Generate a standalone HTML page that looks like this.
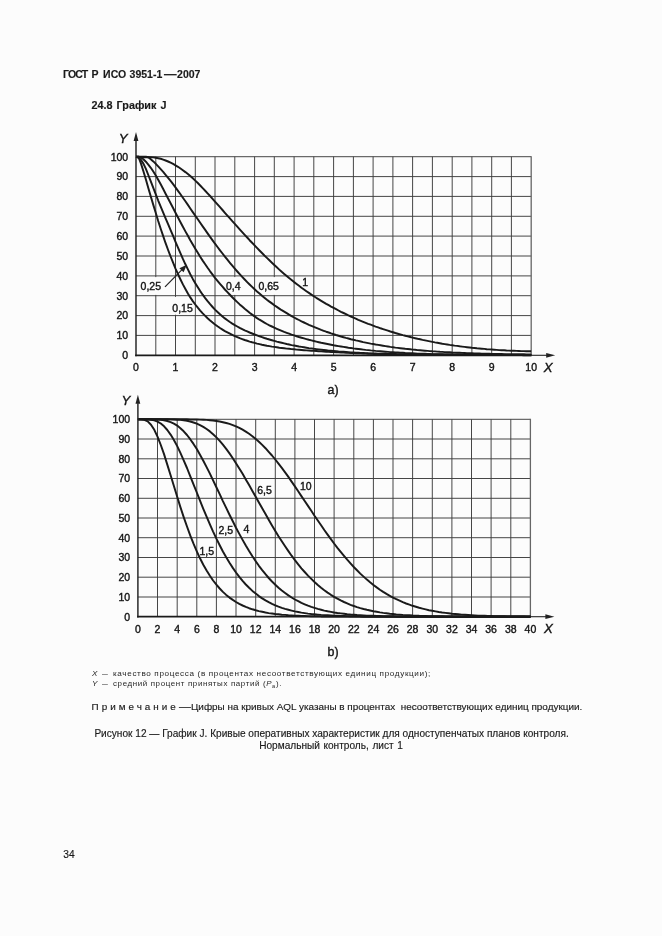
<!DOCTYPE html>
<html lang="ru"><head><meta charset="utf-8"><title>ГОСТ Р ИСО 3951-1—2007</title>
<style>
html,body{margin:0;padding:0}
body{width:662px;height:936px;background:#fcfcfc;position:relative;overflow:hidden;font-family:"Liberation Sans",Arial,sans-serif;color:#1a1a1a}
.p{position:absolute;white-space:nowrap;line-height:1;margin:0;-webkit-text-stroke:0.15px #1a1a1a}
.b{font-weight:bold;font-size:10.5px}
.n{font-size:7px;letter-spacing:0.55px;transform:scaleX(1.16);transform-origin:0 0;-webkit-text-stroke:0;color:#262626}
.n sub{font-size:5px;vertical-align:-1.5px}
svg{position:absolute;left:0;top:0}
svg text{font-family:"Liberation Sans",Arial,sans-serif;font-size:10.5px;fill:#141414;stroke:#141414;stroke-width:0.38px}
svg text.i{font-style:italic;font-size:13.2px}
.g{fill:none;stroke:#3c3c3c;stroke-width:0.95}
.gr{fill:none;stroke:#666;stroke-width:1.3}
.c{fill:none;stroke:#1a1a1a;stroke-width:1.95;stroke-linejoin:round}
.ax{fill:none;stroke:#222;stroke-width:1.45}
.ax2{fill:none;stroke:#1a1a1a;stroke-width:1.8}
.ax3{fill:none;stroke:#222;stroke-width:1.1}
.ar{fill:#222;stroke:none}
.ld{fill:none;stroke:#222;stroke-width:1.2}
.w{fill:#fcfcfc}
</style></head><body>
<div class="p b" style="left:62.9px;top:69.3px;letter-spacing:-0.8px">ГОСТ</div><div class="p b" style="left:91.6px;top:69.3px">Р</div><div class="p b" style="left:103.1px;top:69.3px">ИСО</div><div class="p b" style="left:129.6px;top:69.3px">3951-1</div><div class="p b" style="left:164.2px;top:69.3px;transform:scaleX(1.2);transform-origin:0 0">—</div><div class="p b" style="left:177.1px;top:69.3px">2007</div>
<div class="p b" style="left:91.4px;top:100.4px;font-size:10.8px;word-spacing:1.2px">24.8 График J</div>
<svg width="662" height="936" viewBox="0 0 662 936">
<path class="g" d="M155.8,156.7V355.3M175.5,156.7V355.3M195.3,156.7V355.3M215.0,156.7V355.3M234.8,156.7V355.3M254.6,156.7V355.3M274.3,156.7V355.3M294.1,156.7V355.3M313.8,156.7V355.3M333.6,156.7V355.3M353.4,156.7V355.3M373.1,156.7V355.3M392.9,156.7V355.3M412.6,156.7V355.3M432.4,156.7V355.3M452.2,156.7V355.3M471.9,156.7V355.3M491.7,156.7V355.3M511.4,156.7V355.3M136.0,156.7H531.2M136.0,176.6H531.2M136.0,196.4H531.2M136.0,216.3H531.2M136.0,236.1H531.2M136.0,256.0H531.2M136.0,275.9H531.2M136.0,295.7H531.2M136.0,315.6H531.2M136.0,335.4H531.2"/>
<path class="gr" d="M531.2,156.2V355.3"/>
<rect class="w" x="139.5" y="277.1" width="23" height="17.8"/><rect class="w" x="171" y="296.9" width="23.5" height="17.8"/><rect class="w" x="225" y="277.1" width="17.5" height="17.8"/><rect class="w" x="257.5" y="277.1" width="22.5" height="17.8"/>
<path class="c" d="M136.0,156.7L138.5,157.2L140.9,157.2L143.4,157.2L145.9,157.2L148.3,157.2L150.8,157.3L153.3,157.4L155.8,157.8L158.2,158.2L160.7,158.8L163.2,159.6L165.6,160.5L168.1,161.5L170.6,162.7L173.1,163.9L175.5,165.3L178.0,166.8L180.5,168.5L182.9,170.2L185.4,172.1L187.9,174.1L190.3,176.1L192.8,178.3L195.3,180.6L197.8,183.0L200.2,185.5L202.7,188.1L205.2,190.7L207.6,193.3L210.1,196.0L212.6,198.8L215.0,201.6L217.5,204.4L220.0,207.2L222.5,210.0L224.9,212.8L227.4,215.6L229.9,218.4L232.3,221.2L234.8,223.9L237.3,226.7L239.7,229.4L242.2,232.1L244.7,234.8L247.2,237.5L249.6,240.2L252.1,242.8L254.6,245.4L257.0,247.9L259.5,250.5L262.0,253.0L264.4,255.5L266.9,257.9L269.4,260.3L271.9,262.7L274.3,265.0L276.8,267.3L279.3,269.6L281.7,271.8L284.2,273.9L286.7,276.0L289.1,278.1L291.6,280.1L294.1,282.1L296.6,284.0L299.0,285.8L301.5,287.7L304.0,289.5L306.4,291.2L308.9,292.9L311.4,294.6L313.8,296.2L316.3,297.8L318.8,299.3L321.2,300.8L323.7,302.3L326.2,303.8L328.7,305.2L331.1,306.6L333.6,307.9L336.1,309.2L338.5,310.5L341.0,311.8L343.5,313.0L346.0,314.2L348.4,315.4L350.9,316.5L353.4,317.6L355.8,318.7L358.3,319.8L360.8,320.8L363.2,321.8L365.7,322.8L368.2,323.8L370.7,324.7L373.1,325.6L375.6,326.6L378.1,327.4L380.5,328.3L383.0,329.1L385.5,329.9L387.9,330.7L390.4,331.5L392.9,332.2L395.4,333.0L397.8,333.7L400.3,334.4L402.8,335.1L405.2,335.7L407.7,336.4L410.2,337.0L412.6,337.6L415.1,338.2L417.6,338.8L420.1,339.3L422.5,339.9L425.0,340.4L427.5,340.9L429.9,341.4L432.4,341.9L434.9,342.4L437.3,342.8L439.8,343.2L442.3,343.7L444.8,344.1L447.2,344.5L449.7,344.9L452.2,345.2L454.6,345.6L457.1,345.9L459.6,346.3L462.0,346.6L464.5,346.9L467.0,347.2L469.5,347.5L471.9,347.8L474.4,348.0L476.9,348.3L479.3,348.5L481.8,348.7L484.3,348.9L486.7,349.2L489.2,349.4L491.7,349.5L494.2,349.7L496.6,349.9L499.1,350.1L501.6,350.2L504.0,350.3L506.5,350.5L509.0,350.6L511.4,350.7L513.9,350.8L516.4,350.9L518.9,351.0L521.3,351.1L523.8,351.1L526.3,351.2L528.7,351.2L531.2,351.3"/>
<path class="c" d="M136.0,156.7L138.5,156.7L140.9,156.7L143.4,156.7L145.9,156.7L148.3,157.2L150.8,159.2L153.3,161.4L155.8,163.8L158.2,166.4L160.7,169.1L163.2,171.9L165.6,174.8L168.1,177.8L170.6,180.9L173.1,184.1L175.5,187.4L178.0,190.8L180.5,194.3L182.9,197.8L185.4,201.3L187.9,204.9L190.3,208.5L192.8,212.1L195.3,215.7L197.8,219.3L200.2,222.8L202.7,226.4L205.2,229.9L207.6,233.4L210.1,236.9L212.6,240.3L215.0,243.7L217.5,247.0L220.0,250.3L222.5,253.5L224.9,256.6L227.4,259.7L229.9,262.8L232.3,265.7L234.8,268.6L237.3,271.5L239.7,274.2L242.2,276.9L244.7,279.5L247.2,282.1L249.6,284.5L252.1,286.9L254.6,289.2L257.0,291.5L259.5,293.6L262.0,295.7L264.4,297.7L266.9,299.7L269.4,301.6L271.9,303.4L274.3,305.2L276.8,306.9L279.3,308.6L281.7,310.2L284.2,311.7L286.7,313.2L289.1,314.7L291.6,316.1L294.1,317.5L296.6,318.8L299.0,320.0L301.5,321.3L304.0,322.5L306.4,323.6L308.9,324.8L311.4,325.9L313.8,326.9L316.3,327.9L318.8,328.9L321.2,329.9L323.7,330.8L326.2,331.7L328.7,332.5L331.1,333.4L333.6,334.2L336.1,335.0L338.5,335.7L341.0,336.5L343.5,337.2L346.0,337.9L348.4,338.5L350.9,339.2L353.4,339.8L355.8,340.4L358.3,340.9L360.8,341.5L363.2,342.1L365.7,342.6L368.2,343.1L370.7,343.6L373.1,344.0L375.6,344.5L378.1,344.9L380.5,345.3L383.0,345.7L385.5,346.1L387.9,346.5L390.4,346.9L392.9,347.2L395.4,347.6L397.8,347.9L400.3,348.2L402.8,348.5L405.2,348.8L407.7,349.0L410.2,349.3L412.6,349.6L415.1,349.8L417.6,350.1L420.1,350.3L422.5,350.5L425.0,350.7L427.5,350.9L429.9,351.1L432.4,351.3L434.9,351.4L437.3,351.6L439.8,351.8L442.3,351.9L444.8,352.1L447.2,352.2L449.7,352.3L452.2,352.5L454.6,352.6L457.1,352.7L459.6,352.8L462.0,352.9L464.5,353.0L467.0,353.1L469.5,353.2L471.9,353.3L474.4,353.4L476.9,353.5L479.3,353.5L481.8,353.6L484.3,353.7L486.7,353.7L489.2,353.8L491.7,353.9L494.2,353.9L496.6,353.9L499.1,354.0L501.6,354.0L504.0,354.1L506.5,354.1L509.0,354.1L511.4,354.2L513.9,354.2L516.4,354.3L518.9,354.3L521.3,354.3L523.8,354.3L526.3,354.4L528.7,354.4L531.2,354.4"/>
<path class="c" d="M136.0,156.7L138.5,156.7L140.9,157.5L143.4,159.3L145.9,161.7L148.3,164.6L150.8,167.8L153.3,171.5L155.8,175.5L158.2,179.8L160.7,184.3L163.2,189.0L165.6,193.7L168.1,198.5L170.6,203.3L173.1,208.0L175.5,212.7L178.0,217.5L180.5,222.2L182.9,226.8L185.4,231.4L187.9,235.8L190.3,240.3L192.8,244.6L195.3,248.7L197.8,252.8L200.2,256.8L202.7,260.6L205.2,264.2L207.6,267.8L210.1,271.3L212.6,274.6L215.0,277.8L217.5,280.8L220.0,283.8L222.5,286.7L224.9,289.5L227.4,292.2L229.9,294.8L232.3,297.3L234.8,299.8L237.3,302.1L239.7,304.4L242.2,306.6L244.7,308.8L247.2,310.8L249.6,312.8L252.1,314.6L254.6,316.4L257.0,318.1L259.5,319.7L262.0,321.2L264.4,322.6L266.9,324.0L269.4,325.3L271.9,326.5L274.3,327.7L276.8,328.8L279.3,329.9L281.7,330.9L284.2,331.9L286.7,332.8L289.1,333.7L291.6,334.6L294.1,335.4L296.6,336.2L299.0,337.0L301.5,337.7L304.0,338.4L306.4,339.1L308.9,339.8L311.4,340.4L313.8,341.0L316.3,341.6L318.8,342.2L321.2,342.8L323.7,343.3L326.2,343.8L328.7,344.3L331.1,344.8L333.6,345.3L336.1,345.7L338.5,346.1L341.0,346.5L343.5,346.9L346.0,347.3L348.4,347.7L350.9,348.0L353.4,348.4L355.8,348.7L358.3,349.0L360.8,349.3L363.2,349.6L365.7,349.9L368.2,350.1L370.7,350.4L373.1,350.6L375.6,350.9L378.1,351.1L380.5,351.3L383.0,351.5L385.5,351.7L387.9,351.9L390.4,352.1L392.9,352.2L395.4,352.4L397.8,352.5L400.3,352.7L402.8,352.8L405.2,353.0L407.7,353.1L410.2,353.2L412.6,353.3L415.1,353.4L417.6,353.6L420.1,353.7L422.5,353.7L425.0,353.8L427.5,353.9L429.9,354.0L432.4,354.1L434.9,354.1L437.3,354.2L439.8,354.2L442.3,354.3L444.8,354.4L447.2,354.4L449.7,354.5L452.2,354.5L454.6,354.6L457.1,354.6L459.6,354.6L462.0,354.7L464.5,354.7L467.0,354.7L469.5,354.7L471.9,354.8L474.4,354.8L476.9,354.8L479.3,354.8L481.8,354.9L484.3,354.9L486.7,354.9L489.2,354.9L491.7,354.9L494.2,354.9L496.6,354.9L499.1,355.0L501.6,355.0L504.0,355.0L506.5,355.0L509.0,355.0L511.4,355.0L513.9,355.0L516.4,355.0L518.9,355.0L521.3,355.0L523.8,355.1L526.3,355.1L528.7,355.1L531.2,355.1"/>
<path class="c" d="M136.0,156.7L138.5,157.8L140.9,159.7L143.4,163.6L145.9,168.9L148.3,175.0L150.8,181.4L153.3,187.9L155.8,194.3L158.2,200.5L160.7,206.5L163.2,212.5L165.6,218.3L168.1,224.2L170.6,230.1L173.1,235.9L175.5,241.8L178.0,247.6L180.5,253.3L182.9,258.9L185.4,264.3L187.9,269.4L190.3,274.3L192.8,278.9L195.3,283.2L197.8,287.3L200.2,291.1L202.7,294.7L205.2,298.1L207.6,301.2L210.1,304.2L212.6,307.0L215.0,309.6L217.5,312.0L220.0,314.3L222.5,316.4L224.9,318.4L227.4,320.2L229.9,322.0L232.3,323.6L234.8,325.1L237.3,326.5L239.7,327.9L242.2,329.1L244.7,330.3L247.2,331.4L249.6,332.5L252.1,333.5L254.6,334.5L257.0,335.4L259.5,336.3L262.0,337.1L264.4,338.0L266.9,338.8L269.4,339.5L271.9,340.2L274.3,340.9L276.8,341.6L279.3,342.2L281.7,342.8L284.2,343.4L286.7,344.0L289.1,344.5L291.6,345.1L294.1,345.5L296.6,346.0L299.0,346.5L301.5,346.9L304.0,347.3L306.4,347.7L308.9,348.1L311.4,348.4L313.8,348.8L316.3,349.1L318.8,349.4L321.2,349.7L323.7,350.0L326.2,350.3L328.7,350.6L331.1,350.8L333.6,351.0L336.1,351.2L338.5,351.5L341.0,351.7L343.5,351.8L346.0,352.0L348.4,352.2L350.9,352.4L353.4,352.5L355.8,352.7L358.3,352.8L360.8,352.9L363.2,353.0L365.7,353.1L368.2,353.3L370.7,353.4L373.1,353.4L375.6,353.5L378.1,353.6L380.5,353.7L383.0,353.8L385.5,353.8L387.9,353.9L390.4,353.9L392.9,354.0L395.4,354.0L397.8,354.1L400.3,354.1L402.8,354.2L405.2,354.2L407.7,354.2L410.2,354.3L412.6,354.3L415.1,354.3L417.6,354.3L420.1,354.4L422.5,354.4L425.0,354.4L427.5,354.4L429.9,354.4L432.4,354.4L434.9,354.4L437.3,354.5L439.8,354.5L442.3,354.5L444.8,354.5L447.2,354.5L449.7,354.5L452.2,354.5L454.6,354.5L457.1,354.5L459.6,354.5L462.0,354.5L464.5,354.5L467.0,354.6L469.5,354.6L471.9,354.6L474.4,354.6L476.9,354.6L479.3,354.6L481.8,354.6L484.3,354.6L486.7,354.7L489.2,354.7L491.7,354.7L494.2,354.7L496.6,354.8L499.1,354.8L501.6,354.8L504.0,354.8L506.5,354.9L509.0,354.9L511.4,354.9L513.9,355.0L516.4,355.0L518.9,355.1L521.3,355.1L523.8,355.2L526.3,355.2L528.7,355.3L531.2,355.3"/>
<path class="c" d="M136.0,156.7L138.5,156.8L140.9,163.4L143.4,171.2L145.9,179.5L148.3,188.0L150.8,196.5L153.3,204.9L155.8,213.0L158.2,221.0L160.7,228.7L163.2,236.1L165.6,243.2L168.1,250.0L170.6,256.5L173.1,262.7L175.5,268.6L178.0,274.2L180.5,279.5L182.9,284.4L185.4,289.0L187.9,293.4L190.3,297.4L192.8,301.1L195.3,304.5L197.8,307.7L200.2,310.6L202.7,313.4L205.2,315.9L207.6,318.3L210.1,320.5L212.6,322.6L215.0,324.5L217.5,326.3L220.0,328.0L222.5,329.6L224.9,331.1L227.4,332.4L229.9,333.7L232.3,334.9L234.8,336.1L237.3,337.1L239.7,338.2L242.2,339.1L244.7,340.0L247.2,340.8L249.6,341.6L252.1,342.3L254.6,342.9L257.0,343.6L259.5,344.1L262.0,344.7L264.4,345.2L266.9,345.7L269.4,346.1L271.9,346.6L274.3,346.9L276.8,347.3L279.3,347.7L281.7,348.0L284.2,348.3L286.7,348.6L289.1,348.8L291.6,349.1L294.1,349.3L296.6,349.6L299.0,349.8L301.5,350.0L304.0,350.2L306.4,350.4L308.9,350.5L311.4,350.7L313.8,350.9L316.3,351.0L318.8,351.2L321.2,351.4L323.7,351.5L326.2,351.7L328.7,351.8L331.1,352.0L333.6,352.1L336.1,352.2L338.5,352.4L341.0,352.5L343.5,352.6L346.0,352.7L348.4,352.9L350.9,353.0L353.4,353.1L355.8,353.2L358.3,353.3L360.8,353.4L363.2,353.5L365.7,353.6L368.2,353.7L370.7,353.8L373.1,353.9L375.6,353.9L378.1,354.0L380.5,354.1L383.0,354.2L385.5,354.3L387.9,354.3L390.4,354.4L392.9,354.5L395.4,354.5L397.8,354.6L400.3,354.7L402.8,354.7L405.2,354.8L407.7,354.8L410.2,354.9L412.6,354.9L415.1,354.9L417.6,354.9L420.1,354.9L422.5,354.9L425.0,354.9L427.5,354.9L429.9,354.9L432.4,354.9L434.9,354.9L437.3,354.9L439.8,354.9L442.3,354.9L444.8,354.9L447.2,354.9L449.7,354.9L452.2,354.9L454.6,354.9L457.1,354.9L459.6,354.9L462.0,354.9L464.5,354.9L467.0,354.9L469.5,354.9L471.9,354.9L474.4,354.9L476.9,354.9L479.3,354.9L481.8,354.9L484.3,354.9L486.7,354.9L489.2,354.9L491.7,354.9L494.2,354.9L496.6,354.9L499.1,354.9L501.6,354.9L504.0,354.9L506.5,354.9L509.0,354.9L511.4,354.9L513.9,354.9L516.4,354.9L518.9,354.9L521.3,354.9L523.8,354.9L526.3,354.9L528.7,354.9L531.2,354.9"/>
<path class="ax" d="M136.0,140.7V356.2"/>
<path class="ax2" d="M135.2,355.3H531.7"/>
<path class="ax3" d="M531.2,355.3H548.2"/>
<path class="ar" d="M136.0,132.1l-2.4,9h4.8z"/>
<path class="ar" d="M555.2,355.3l-9,-2.4v4.8z"/>
<text text-anchor="end" x="128.2" y="359.1">0</text>
<text text-anchor="end" x="128.2" y="339.2">10</text>
<text text-anchor="end" x="128.2" y="319.4">20</text>
<text text-anchor="end" x="128.2" y="299.5">30</text>
<text text-anchor="end" x="128.2" y="279.7">40</text>
<text text-anchor="end" x="128.2" y="259.8">50</text>
<text text-anchor="end" x="128.2" y="239.9">60</text>
<text text-anchor="end" x="128.2" y="220.1">70</text>
<text text-anchor="end" x="128.2" y="200.2">80</text>
<text text-anchor="end" x="128.2" y="180.4">90</text>
<text text-anchor="end" x="128.2" y="160.5">100</text>
<text text-anchor="middle" x="136.0" y="371.3">0</text>
<text text-anchor="middle" x="175.5" y="371.3">1</text>
<text text-anchor="middle" x="215.0" y="371.3">2</text>
<text text-anchor="middle" x="254.6" y="371.3">3</text>
<text text-anchor="middle" x="294.1" y="371.3">4</text>
<text text-anchor="middle" x="333.6" y="371.3">5</text>
<text text-anchor="middle" x="373.1" y="371.3">6</text>
<text text-anchor="middle" x="412.6" y="371.3">7</text>
<text text-anchor="middle" x="452.2" y="371.3">8</text>
<text text-anchor="middle" x="491.7" y="371.3">9</text>
<text text-anchor="middle" x="531.2" y="371.3">10</text>
<text class="i" x="118.8" y="143.1">Y</text>
<text class="i" x="543.7" y="372.1">X</text>
<text x="140.6" y="290.4">0,25</text><text x="172.3" y="312">0,15</text><text x="226" y="290.4">0,4</text><text x="258.4" y="290.4">0,65</text><text x="302.3" y="286.4">1</text><path class="ld" d="M165,286.8L183,268.6"/><path class="ar" d="M186.8,264.8l-7.4,3.4l4.2,4.0z"/>
<text x="327.6" y="394.4" style="font-size:12.4px">a)</text>
<path class="g" d="M157.5,419.3V616.7M177.2,419.3V616.7M196.8,419.3V616.7M216.4,419.3V616.7M236.0,419.3V616.7M255.7,419.3V616.7M275.3,419.3V616.7M294.9,419.3V616.7M314.5,419.3V616.7M334.1,419.3V616.7M353.8,419.3V616.7M373.4,419.3V616.7M393.0,419.3V616.7M412.6,419.3V616.7M432.3,419.3V616.7M451.9,419.3V616.7M471.5,419.3V616.7M491.1,419.3V616.7M510.8,419.3V616.7M137.9,419.3H530.4M137.9,439.0H530.4M137.9,458.8H530.4M137.9,478.5H530.4M137.9,498.3H530.4M137.9,518.0H530.4M137.9,537.7H530.4M137.9,557.5H530.4M137.9,577.2H530.4M137.9,597.0H530.4"/>
<path class="gr" d="M530.4,418.8V616.7"/>

<path class="c" d="M137.9,419.3L141.2,419.3L144.4,419.8L147.7,421.4L151.0,424.7L154.3,429.8L157.5,436.7L160.8,445.0L164.1,454.4L167.3,464.6L170.6,475.3L173.9,486.0L177.2,496.7L180.4,507.1L183.7,517.1L187.0,526.5L190.2,535.4L193.5,543.7L196.8,551.3L200.0,558.3L203.3,564.7L206.6,570.5L209.9,575.7L213.1,580.5L216.4,584.7L219.7,588.5L222.9,591.9L226.2,594.9L229.5,597.6L232.8,599.9L236.0,602.0L239.3,603.9L242.6,605.5L245.8,606.9L249.1,608.2L252.4,609.3L255.7,610.3L258.9,611.1L262.2,611.8L265.5,612.5L268.7,613.1L272.0,613.5L275.3,614.0L278.5,614.3L281.8,614.7L285.1,614.9L288.4,615.2L291.6,615.4L294.9,615.6L298.2,615.7L301.4,615.9L304.7,616.0L308.0,616.1L311.3,616.2L314.5,616.2L317.8,616.3L321.1,616.4L324.3,616.4L327.6,616.5L330.9,616.5L334.1,616.5L337.4,616.5L340.7,616.6L344.0,616.6L347.2,616.6L350.5,616.6L353.8,616.6L357.0,616.6L360.3,616.6L363.6,616.7L366.9,616.7L370.1,616.7L373.4,616.7L376.7,616.7L379.9,616.7L383.2,616.7L386.5,616.7L389.8,616.7L393.0,616.7L396.3,616.7L399.6,616.7L402.8,616.7L406.1,616.7L409.4,616.7L412.6,616.7L415.9,616.7L419.2,616.7L422.5,616.7L425.7,616.7L429.0,616.7L432.3,616.7L435.5,616.7L438.8,616.7L442.1,616.7L445.4,616.7L448.6,616.7L451.9,616.7L455.2,616.7L458.4,616.7L461.7,616.7L465.0,616.7L468.3,616.7L471.5,616.7L474.8,616.7L478.1,616.7L481.3,616.7L484.6,616.7L487.9,616.7L491.1,616.7L494.4,616.7L497.7,616.7L501.0,616.7L504.2,616.7L507.5,616.7L510.8,616.7L514.0,616.7L517.3,616.7L520.6,616.7L523.9,616.7L527.1,616.7L530.4,616.7"/>
<path class="c" d="M137.9,419.3L141.2,419.3L144.4,419.3L147.7,419.4L151.0,419.7L154.3,420.3L157.5,421.6L160.8,423.5L164.1,426.3L167.3,430.0L170.6,434.6L173.9,440.0L177.2,446.1L180.4,452.9L183.7,460.3L187.0,468.0L190.2,476.1L193.5,484.3L196.8,492.5L200.0,500.7L203.3,508.8L206.6,516.7L209.9,524.3L213.1,531.6L216.4,538.6L219.7,545.2L222.9,551.5L226.2,557.3L229.5,562.8L232.8,567.9L236.0,572.5L239.3,576.9L242.6,580.9L245.8,584.5L249.1,587.8L252.4,590.9L255.7,593.6L258.9,596.1L262.2,598.4L265.5,600.4L268.7,602.2L272.0,603.9L275.3,605.3L278.5,606.6L281.8,607.8L285.1,608.9L288.4,609.8L291.6,610.6L294.9,611.4L298.2,612.0L301.4,612.6L304.7,613.1L308.0,613.6L311.3,614.0L314.5,614.3L317.8,614.6L321.1,614.9L324.3,615.1L327.6,615.3L330.9,615.5L334.1,615.7L337.4,615.8L340.7,615.9L344.0,616.0L347.2,616.1L350.5,616.2L353.8,616.3L357.0,616.3L360.3,616.4L363.6,616.4L366.9,616.5L370.1,616.5L373.4,616.5L376.7,616.5L379.9,616.6L383.2,616.6L386.5,616.6L389.8,616.6L393.0,616.6L396.3,616.6L399.6,616.6L402.8,616.7L406.1,616.7L409.4,616.7L412.6,616.7L415.9,616.7L419.2,616.7L422.5,616.7L425.7,616.7L429.0,616.7L432.3,616.7L435.5,616.7L438.8,616.7L442.1,616.7L445.4,616.7L448.6,616.7L451.9,616.7L455.2,616.7L458.4,616.7L461.7,616.7L465.0,616.7L468.3,616.7L471.5,616.7L474.8,616.7L478.1,616.7L481.3,616.7L484.6,616.7L487.9,616.7L491.1,616.7L494.4,616.7L497.7,616.7L501.0,616.7L504.2,616.7L507.5,616.7L510.8,616.7L514.0,616.7L517.3,616.7L520.6,616.7L523.9,616.7L527.1,616.7L530.4,616.7"/>
<path class="c" d="M137.9,419.3L141.2,419.3L144.4,419.3L147.7,419.3L151.0,419.3L154.3,419.4L157.5,419.5L160.8,419.8L164.1,420.2L167.3,421.0L170.6,422.1L173.9,423.6L177.2,425.6L180.4,428.2L183.7,431.3L187.0,435.0L190.2,439.2L193.5,443.9L196.8,449.1L200.0,454.7L203.3,460.7L206.6,467.1L209.9,473.6L213.1,480.4L216.4,487.2L219.7,494.1L222.9,501.1L226.2,507.9L229.5,514.7L232.8,521.3L236.0,527.7L239.3,533.9L242.6,539.9L245.8,545.6L249.1,551.1L252.4,556.3L255.7,561.2L258.9,565.8L262.2,570.1L265.5,574.2L268.7,578.0L272.0,581.5L275.3,584.7L278.5,587.7L281.8,590.5L285.1,593.0L288.4,595.4L291.6,597.5L294.9,599.5L298.2,601.2L301.4,602.9L304.7,604.3L308.0,605.7L311.3,606.9L314.5,607.9L317.8,608.9L321.1,609.8L324.3,610.6L327.6,611.3L330.9,611.9L334.1,612.5L337.4,613.0L340.7,613.4L344.0,613.8L347.2,614.2L350.5,614.5L353.8,614.7L357.0,615.0L360.3,615.2L363.6,615.4L366.9,615.6L370.1,615.7L373.4,615.8L376.7,615.9L379.9,616.0L383.2,616.1L386.5,616.2L389.8,616.3L393.0,616.3L396.3,616.4L399.6,616.4L402.8,616.5L406.1,616.5L409.4,616.5L412.6,616.5L415.9,616.6L419.2,616.6L422.5,616.6L425.7,616.6L429.0,616.6L432.3,616.6L435.5,616.6L438.8,616.7L442.1,616.7L445.4,616.7L448.6,616.7L451.9,616.7L455.2,616.7L458.4,616.7L461.7,616.7L465.0,616.7L468.3,616.7L471.5,616.7L474.8,616.7L478.1,616.7L481.3,616.7L484.6,616.7L487.9,616.7L491.1,616.7L494.4,616.7L497.7,616.7L501.0,616.7L504.2,616.7L507.5,616.7L510.8,616.7L514.0,616.7L517.3,616.7L520.6,616.7L523.9,616.7L527.1,616.7L530.4,616.7"/>
<path class="c" d="M137.9,419.3L141.2,419.3L144.4,419.3L147.7,419.3L151.0,419.3L154.3,419.3L157.5,419.3L160.8,419.3L164.1,419.3L167.3,419.3L170.6,419.4L173.9,419.5L177.2,419.7L180.4,419.9L183.7,420.3L187.0,420.8L190.2,421.5L193.5,422.5L196.8,423.7L200.0,425.1L203.3,426.9L206.6,429.0L209.9,431.4L213.1,434.2L216.4,437.4L219.7,440.9L222.9,444.7L226.2,448.9L229.5,453.4L232.8,458.2L236.0,463.2L239.3,468.4L242.6,473.8L245.8,479.4L249.1,485.1L252.4,490.9L255.7,496.7L258.9,502.5L262.2,508.3L265.5,514.1L268.7,519.8L272.0,525.4L275.3,530.9L278.5,536.2L281.8,541.3L285.1,546.3L288.4,551.1L291.6,555.7L294.9,560.1L298.2,564.3L301.4,568.3L304.7,572.0L308.0,575.6L311.3,578.9L314.5,582.0L317.8,585.0L321.1,587.7L324.3,590.2L327.6,592.6L330.9,594.8L334.1,596.8L337.4,598.7L340.7,600.4L344.0,602.0L347.2,603.4L350.5,604.8L353.8,606.0L357.0,607.1L360.3,608.1L363.6,609.0L366.9,609.8L370.1,610.5L373.4,611.2L376.7,611.8L379.9,612.4L383.2,612.9L386.5,613.3L389.8,613.7L393.0,614.0L396.3,614.4L399.6,614.6L402.8,614.9L406.1,615.1L409.4,615.3L412.6,615.5L415.9,615.6L419.2,615.8L422.5,615.9L425.7,616.0L429.0,616.1L432.3,616.2L435.5,616.2L438.8,616.3L442.1,616.3L445.4,616.4L448.6,616.4L451.9,616.5L455.2,616.5L458.4,616.5L461.7,616.6L465.0,616.6L468.3,616.6L471.5,616.6L474.8,616.6L478.1,616.6L481.3,616.6L484.6,616.7L487.9,616.7L491.1,616.7L494.4,616.7L497.7,616.7L501.0,616.7L504.2,616.7L507.5,616.7L510.8,616.7L514.0,616.7L517.3,616.7L520.6,616.7L523.9,616.7L527.1,616.7L530.4,616.7"/>
<path class="c" d="M137.9,419.3L141.2,419.3L144.4,419.3L147.7,419.3L151.0,419.3L154.3,419.3L157.5,419.3L160.8,419.3L164.1,419.3L167.3,419.3L170.6,419.3L173.9,419.3L177.2,419.3L180.4,419.3L183.7,419.3L187.0,419.3L190.2,419.4L193.5,419.4L196.8,419.5L200.0,419.6L203.3,419.7L206.6,419.9L209.9,420.2L213.1,420.5L216.4,421.0L219.7,421.5L222.9,422.2L226.2,423.0L229.5,423.9L232.8,425.1L236.0,426.4L239.3,427.9L242.6,429.7L245.8,431.6L249.1,433.8L252.4,436.2L255.7,438.9L258.9,441.8L262.2,444.9L265.5,448.2L268.7,451.8L272.0,455.5L275.3,459.5L278.5,463.6L281.8,467.9L285.1,472.3L288.4,476.9L291.6,481.6L294.9,486.4L298.2,491.2L301.4,496.1L304.7,501.0L308.0,505.9L311.3,510.8L314.5,515.7L317.8,520.5L321.1,525.3L324.3,530.0L327.6,534.6L330.9,539.1L334.1,543.5L337.4,547.8L340.7,551.9L344.0,555.9L347.2,559.7L350.5,563.4L353.8,567.0L357.0,570.3L360.3,573.6L363.6,576.6L366.9,579.6L370.1,582.3L373.4,584.9L376.7,587.4L379.9,589.7L383.2,591.9L386.5,593.9L389.8,595.8L393.0,597.6L396.3,599.2L399.6,600.7L402.8,602.2L406.1,603.5L409.4,604.7L412.6,605.8L415.9,606.8L419.2,607.8L422.5,608.6L425.7,609.4L429.0,610.2L432.3,610.8L435.5,611.4L438.8,612.0L442.1,612.5L445.4,612.9L448.6,613.3L451.9,613.7L455.2,614.0L458.4,614.3L461.7,614.6L465.0,614.8L468.3,615.0L471.5,615.2L474.8,615.4L478.1,615.6L481.3,615.7L484.6,615.8L487.9,615.9L491.1,616.0L494.4,616.1L497.7,616.2L501.0,616.2L504.2,616.3L507.5,616.4L510.8,616.4L514.0,616.4L517.3,616.5L520.6,616.5L523.9,616.5L527.1,616.6L530.4,616.6"/>
<path class="ax" d="M137.9,403.3V617.6"/>
<path class="ax2" d="M137.1,616.7H530.9"/>
<path class="ax3" d="M530.4,616.7H547.4"/>
<path class="ar" d="M137.9,394.7l-2.4,9h4.8z"/>
<path class="ar" d="M554.4,616.7l-9,-2.4v4.8z"/>
<text text-anchor="end" x="130.1" y="620.5">0</text>
<text text-anchor="end" x="130.1" y="600.8">10</text>
<text text-anchor="end" x="130.1" y="581.0">20</text>
<text text-anchor="end" x="130.1" y="561.3">30</text>
<text text-anchor="end" x="130.1" y="541.5">40</text>
<text text-anchor="end" x="130.1" y="521.8">50</text>
<text text-anchor="end" x="130.1" y="502.1">60</text>
<text text-anchor="end" x="130.1" y="482.3">70</text>
<text text-anchor="end" x="130.1" y="462.6">80</text>
<text text-anchor="end" x="130.1" y="442.8">90</text>
<text text-anchor="end" x="130.1" y="423.1">100</text>
<text text-anchor="middle" x="137.9" y="632.5">0</text>
<text text-anchor="middle" x="157.5" y="632.5">2</text>
<text text-anchor="middle" x="177.2" y="632.5">4</text>
<text text-anchor="middle" x="196.8" y="632.5">6</text>
<text text-anchor="middle" x="216.4" y="632.5">8</text>
<text text-anchor="middle" x="236.0" y="632.5">10</text>
<text text-anchor="middle" x="255.7" y="632.5">12</text>
<text text-anchor="middle" x="275.3" y="632.5">14</text>
<text text-anchor="middle" x="294.9" y="632.5">16</text>
<text text-anchor="middle" x="314.5" y="632.5">18</text>
<text text-anchor="middle" x="334.1" y="632.5">20</text>
<text text-anchor="middle" x="353.8" y="632.5">22</text>
<text text-anchor="middle" x="373.4" y="632.5">24</text>
<text text-anchor="middle" x="393.0" y="632.5">26</text>
<text text-anchor="middle" x="412.6" y="632.5">28</text>
<text text-anchor="middle" x="432.3" y="632.5">30</text>
<text text-anchor="middle" x="451.9" y="632.5">32</text>
<text text-anchor="middle" x="471.5" y="632.5">34</text>
<text text-anchor="middle" x="491.1" y="632.5">36</text>
<text text-anchor="middle" x="510.8" y="632.5">38</text>
<text text-anchor="middle" x="530.4" y="632.5">40</text>
<text class="i" x="121.5" y="404.5">Y</text>
<text class="i" x="543.9" y="633.3">X</text>
<text x="199.5" y="555.2">1,5</text><text x="218.5" y="534.2">2,5</text><text x="243.6" y="532.5">4</text><text x="257.2" y="494.3">6,5</text><text x="300" y="489.9">10</text>
<text x="327.6" y="655.6" style="font-size:12.4px">b)</text>
</svg>
<div class="p n" style="left:91.5px;top:669.9px"><i>X</i></div><div class="p n" style="left:101.9px;top:669.9px;transform:scaleX(1.5)">–</div><div class="p n" style="left:113.1px;top:669.9px;transform:scaleX(1.161)">качество процесса (в процентах несоответствующих единиц продукции);</div>
<div class="p n" style="left:91.5px;top:680.4px"><i>Y</i></div><div class="p n" style="left:101.9px;top:680.4px;transform:scaleX(1.5)">–</div><div class="p n" style="left:113.1px;top:680.4px;transform:scaleX(1.134)">средний процент принятых партий (<i>P</i><sub>a</sub>).</div>
<div class="p" style="left:91.6px;top:702.3px;font-size:9.9px;letter-spacing:3.0px">Примечание</div><div class="p" style="left:179px;top:702.3px;font-size:9.9px;transform:scaleX(1.2);transform-origin:0 0">—</div><div class="p" style="left:191px;top:702.3px;font-size:9.93px">Цифры на кривых AQL указаны в процентах &nbsp;несоответствующих единиц продукции.</div>
<div class="p" style="left:94.4px;top:728.9px;font-size:10.1px">Рисунок 12 — График J. Кривые оперативных характеристик для одноступенчатых планов контроля.</div>
<div class="p" style="left:259.2px;top:740.9px;font-size:10.1px;word-spacing:0.8px">Нормальный контроль, лист 1</div>
<div class="p" style="left:63.3px;top:850.3px;font-size:10.2px">34</div>
</body></html>
